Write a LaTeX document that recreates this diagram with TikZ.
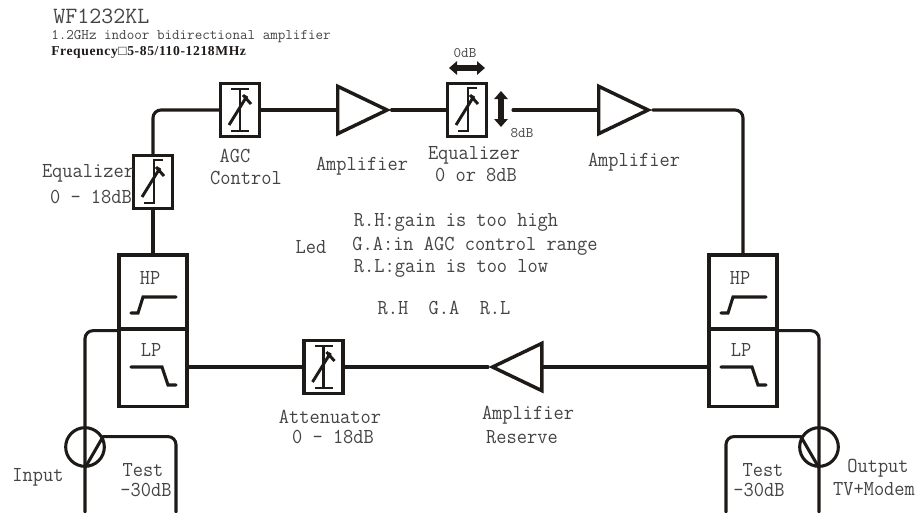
\documentclass[tikz,border=0pt]{standalone}
\usepackage{fontspec}
\setmainfont{Liberation Serif}
\newfontfamily\labfont[FakeStretch=0.93]{Latin Modern Mono}
\usetikzlibrary{shapes.geometric,arrows.meta}
\definecolor{inkdark}{HTML}{1E1A18}
\definecolor{inktext}{HTML}{444444}
\tikzset{
  wire/.style = {line width = 2.3pt, inkdark, line cap = round},
  sym/.style = {line width = 2.2pt, inkdark},
  cellbox/.style = {draw = inkdark, line width = 2.6pt, inner sep = 0pt, minimum width = 29pt, minimum height = 40pt},
  filterbox/.style = {draw = inkdark, line width = 2.5pt, inner sep = 0pt, minimum width = 51pt},
  amptri/.style = {draw = inkdark, line width = 2.6pt, isosceles triangle, isosceles triangle stretches, inner sep = 0pt, minimum width = 35.5pt, minimum height = 37pt, anchor = west},
  tapring/.style = {draw = inkdark, line width = 2.3pt, circle, inner sep = 0pt, minimum size = 29pt},
  lab/.style = {inktext, font = \labfont\fontsize{16}{18}\selectfont, inner sep = 0pt},
  smalllab/.style = {inktext, font = \ttfamily\fontsize{11}{13}\selectfont, inner sep = 0pt},
  swarrow/.style = {line width = 4.5pt, inkdark, {Triangle[length = 6pt, width = 10pt]}-{Triangle[length = 6pt, width = 10pt]}}
}
\begin{document}
\begin{tikzpicture}[x = 0.75pt, y = -0.75pt]
\useasboundingbox (0,0) rectangle (922,512);

% header
\node[lab, anchor = west, font = \ttfamily\fontsize{17.5}{20}\selectfont] (title) at (53,16) {WF1232KL};
\node[smalllab, anchor = west] (subtitle) at (51,37) {1.2GHz indoor bidirectional amplifier};
\node[anchor = west, inner sep = 0pt, text = inkdark, font = \bfseries\fontsize{10.2}{12}\selectfont\addfontfeature{LetterSpace=4.5}] (freq) at (51,52) {Frequency□5-85/110-1218MHz};

% upper chain
\node[cellbox] (eql) at (153,182) {};
\node[cellbox] (agc) at (240,110) {};
\node[amptri] (ampa) at (336,110) {};
\node[cellbox] (eqm) at (467,110) {};
\node[amptri] (ampb) at (597,110) {};
\coordinate (eqout) at (513,110);

% filters
\node[filterbox, minimum height = 55.5pt] (hpl) at (153,292) {};
\node[filterbox, minimum height = 58pt] (lpl) at (153,368) {};
\node[filterbox, minimum height = 55.5pt] (hpr) at (743,292) {};
\node[filterbox, minimum height = 58pt] (lpr) at (743,368) {};

% lower chain
\node[cellbox] (att) at (323.5,367) {};
\node[amptri, shape border rotate = 180] (ampr) at (488,367) {};

% taps
\node[tapring] (inl) at (85,447) {};
\node[tapring] (outr) at (819,447) {};
\coordinate (inend) at (85,512);
\coordinate (outend) at (819,512);
\coordinate (testl) at (176,512);
\coordinate (testr) at (726,512);

\draw[wire, rounded corners = 6pt] (eql.north) |- (agc.west);
\draw[wire] (eql.south) -- (hpl.north);
\draw[wire] (agc.east) -- (ampa.west);
\draw[wire] (ampa.east) -- (eqm.west);
\draw[wire] (eqout) -- (ampb.west);
\draw[wire, rounded corners = 6pt] (ampb.east) -| (hpr.north);
\draw[wire] (lpl.east |- att.west) -- (att.west);
\draw[wire] (att.east) -- (ampr.west);
\draw[wire] (ampr.east) -- (lpr.west |- ampr.east);
\draw[wire, rounded corners = 6pt] (hpl.south west) -| (inend);
\draw[wire, rounded corners = 6pt] (hpr.south east) -| (outend);
\draw[wire] (inl.south) -- (inl.30);
\draw[wire, rounded corners = 6pt] (inl.30) -| (testl);
\draw[wire] (outr.south) -- (outr.150);
\draw[wire, rounded corners = 6pt] (outr.150) -| (testr);

% slider symbols
\foreach \cell in {agc,att}{
   \draw[sym, shift = {(\cell)}] (-9,-21) -- (9,-21) (0,-21) -- (0,21) (-9,21) -- (9,21);
   }
\foreach \cell in {eql,eqm}{
   \draw[sym, shift = {(\cell)}] (10,-22) -- (1,-22) -- (1,21) -- (-9,21);
   }
\foreach \cell in {agc,att,eql,eqm}{
   \draw[sym, shift = {(\cell)}] (-11,15) -- (7,-14) (3,-15) -- (11,-6);
   }

% filter curves
\foreach \cell in {hpl,hpr}{
   \draw[wire, shift = {(\cell.center)}] (-22,21) -- (-15,21) -- (-10,5) -- (23,5);
   }
\foreach \cell in {lpl,lpr}{
   \draw[wire, shift = {(\cell.center)}] (-22,-1) -- (9,-1) -- (15,17) -- (23,17);
   }

% switch arrows
\coordinate (swa) at (449,68);
\coordinate (swb) at (485,68);
\coordinate (swc) at (501,91);
\coordinate (swd) at (501,127);
\draw[swarrow] (swa) -- (swb);
\draw[swarrow] (swc) -- (swd);

% labels
\foreach \name/\x/\y/\txt in {
   lagc/235/156/AGC, lctl/246/178/Control, lampa/362/166/Amplifier,
   leqm/474/155/Equalizer, leqmv/476/175/{0 or 8dB}, lampb/634/162/Amplifier,
   leql/88/173/Equalizer, leqlv/91/197/{0 - 18dB},
   lhpl/150/278/HP, llpl/151/350/LP, lhpr/740/278/HP, llpr/741/350/LP,
   latt/330/417/Attenuator, lattv/333/437/{0 - 18dB},
   lampr/528/415/Amplifier, lres/522/437/Reserve,
   linp/38/477/Input, ltstl/143/470/Test, ldbl/146/490/-30dB,
   ltstr/763/470/Test, ldbr/759/490/-30dB,
   lout/878/468/Output, ltv/874/489/TV+Modem,
   lrh/456/222/{R.H:gain is too high}, lga/475/246/{G.A:in AGC control range},
   lrl/451/268/{R.L:gain is too low}, lled/311/247/Led, lstate/444/308/{R.H~~G.A~~R.L}}
   \node[lab] (\name) at (\x,\y) {\txt};

\node[smalllab] (lzero) at (465,53) {0dB};
\node[smalllab] (leight) at (522,133) {8dB};
\end{tikzpicture}
\end{document}
